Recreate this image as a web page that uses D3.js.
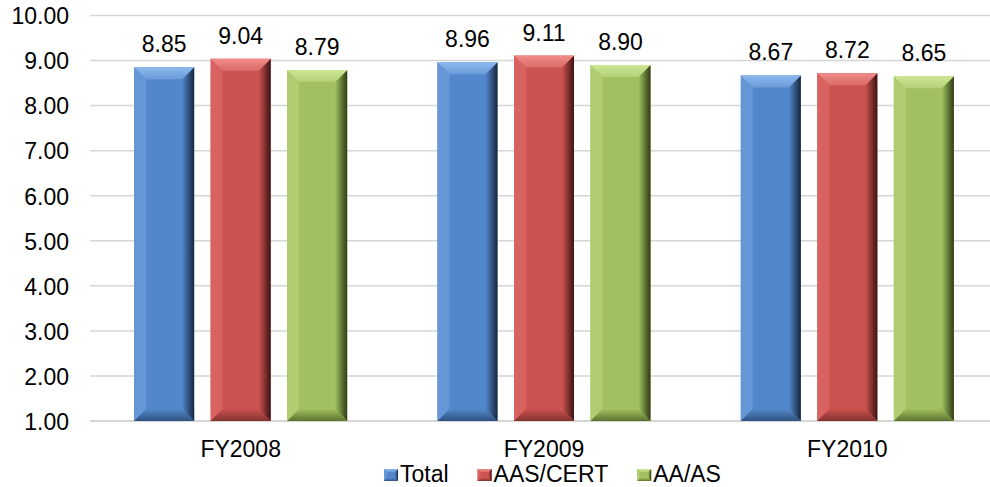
<!DOCTYPE html>
<html>
<head>
<meta charset="utf-8">
<script src="https://cdn.jsdelivr.net/npm/d3@7"></script>
<style>
  body { margin: 0; background: #fff; }
  text { font-family: "Liberation Sans", Arial, sans-serif; fill: #000; }
</style>
</head>
<body>
<div id="chart"></div>
<script>
// chart data
var years = ['FY2008', 'FY2009', 'FY2010'];
var seriesNames = ['Total', 'AAS/CERT', 'AA/AS'];
var totalVals = [8.85, 8.96, 8.67];
var aasVals = [9.04, 9.11, 8.72];
var aaVals = [8.79, 8.90, 8.65];
var yTicks = [1, 2, 3, 4, 5, 6, 7, 8, 9, 10];

var svgWidth = 990;
var svgHeight = 487;

// colours per series: face, top, left, right, bottom
var palette = [
    {face: '#5387CB', top: '#8CB8EE', left: '#6596d6', right: '#16263d', bottom: '#2f5280'},
    {face: '#CB5350', top: '#F08C89', left: '#d8625f', right: '#3e1312', bottom: '#83302e'},
    {face: '#A1C05F', top: '#CDE795', left: '#afcd70', right: '#2f3a14', bottom: '#5d7230'}
];

var seriesVals = [totalVals, aasVals, aaVals];
var rows = [];
years.forEach(function(yr, i) {
    seriesNames.forEach(function(s, j) {
        rows.push({year: yr, series: s, idx: j, value: seriesVals[j][i]});
    });
});

var svg = d3.select('#chart')
    .append('svg')
    .attr('width', svgWidth)
    .attr('height', svgHeight);

var defs = svg.append('defs');
palette.forEach(function(p, i) {
    var g = defs.append('linearGradient').attr('id', 'right' + i)
        .attr('x1', 0).attr('x2', 1).attr('y1', 0).attr('y2', 0);
    g.append('stop').attr('offset', '0%').attr('stop-color', p.face);
    g.append('stop').attr('offset', '100%').attr('stop-color', p.right);
    var t = defs.append('linearGradient').attr('id', 'top' + i)
        .attr('x1', 0).attr('x2', 0).attr('y1', 0).attr('y2', 1);
    t.append('stop').attr('offset', '0%').attr('stop-color', p.top);
    t.append('stop').attr('offset', '100%').attr('stop-color', d3.interpolateRgb(p.top, p.face)(0.6));
    var b = defs.append('linearGradient').attr('id', 'bot' + i)
        .attr('x1', 0).attr('x2', 0).attr('y1', 0).attr('y2', 1);
    b.append('stop').attr('offset', '0%').attr('stop-color', p.face);
    b.append('stop').attr('offset', '100%').attr('stop-color', p.bottom);
});

var yScale = d3.scaleLinear()
    .domain([1, 10])
    .range([421, 15.5]);

var x0 = d3.scaleBand()
    .domain(years)
    .range([89, 999])
    .padding(0);

var x1 = d3.scaleBand()
    .domain(seriesNames)
    .range([0, x0.bandwidth()])
    .paddingInner(0.2157)
    .paddingOuter(0.59);

// gridlines
svg.append('g').selectAll('line')
    .data(yTicks)
    .enter()
    .append('line')
    .attr('x1', 90)
    .attr('x2', svgWidth)
    .attr('y1', d => yScale(d))
    .attr('y2', d => yScale(d))
    .attr('stroke', '#d6d6d6')
    .attr('stroke-width', d => d === 1 ? 2 : 1.5);

// y axis labels
var leftAxis = d3.axisLeft(yScale)
    .tickValues(yTicks)
    .tickFormat(d3.format('.2f'))
    .tickSize(0)
    .tickPadding(0);

svg.append('g')
    .attr('transform', 'translate(69,0)')
    .call(leftAxis)
    .call(g => g.select('.domain').remove())
    .selectAll('text')
    .attr('font-size', '23px')
    .attr('font-family', '"Liberation Sans", Arial, sans-serif')
    .attr('fill', '#000')
    .attr('dy', '0.36em');

function bevelBar(g, x, y, w, h, b, i) {
    var p = palette[i];
    g.append('rect').attr('x', x).attr('y', y).attr('width', w).attr('height', h).attr('fill', p.face);
    g.append('polygon')
        .attr('points', [[x, y], [x + b, y + b], [x + b, y + h - b], [x, y + h]].join(' '))
        .attr('fill', p.left);
    g.append('polygon')
        .attr('points', [[x + w, y], [x + w, y + h], [x + w - b, y + h - b], [x + w - b, y + b]].join(' '))
        .attr('fill', 'url(#right' + i + ')');
    g.append('polygon')
        .attr('points', [[x, y + h], [x + b, y + h - b], [x + w - b, y + h - b], [x + w, y + h]].join(' '))
        .attr('fill', 'url(#bot' + i + ')');
    g.append('polygon')
        .attr('points', [[x, y], [x + w, y], [x + w - b, y + b], [x + b, y + b]].join(' '))
        .attr('fill', 'url(#top' + i + ')');
}

var barGroup = svg.append('g');
rows.forEach(function(d) {
    var bx = x0(d.year) + x1(d.series);
    var by = yScale(d.value);
    bevelBar(barGroup, bx, by, x1.bandwidth(), yScale(1) - by, 12, d.idx);
});

// value labels
svg.append('g').selectAll('text')
    .data(rows)
    .enter()
    .append('text')
    .attr('x', d => x0(d.year) + x1(d.series) + x1.bandwidth() / 2)
    .attr('y', d => yScale(d.value) - 15)
    .attr('text-anchor', 'middle')
    .attr('font-size', '23px')
    .text(d => d.value.toFixed(2));

// category labels
svg.append('g').selectAll('text')
    .data(years)
    .enter()
    .append('text')
    .attr('x', d => x0(d) + x0.bandwidth() / 2)
    .attr('y', 457)
    .attr('text-anchor', 'middle')
    .attr('font-size', '23px')
    .text(d => d);

// legend
var legend = svg.append('g');
var lx = 384;
seriesNames.forEach(function(s, i) {
    bevelBar(legend, lx, 469, 14, 12, 3, i);
    var t = legend.append('text')
        .attr('x', lx + 16)
        .attr('y', 482)
        .attr('font-size', '23px')
        .text(s);
    lx = lx + 16 + t.node().getComputedTextLength() + 29;
});
</script>
</body>
</html>
